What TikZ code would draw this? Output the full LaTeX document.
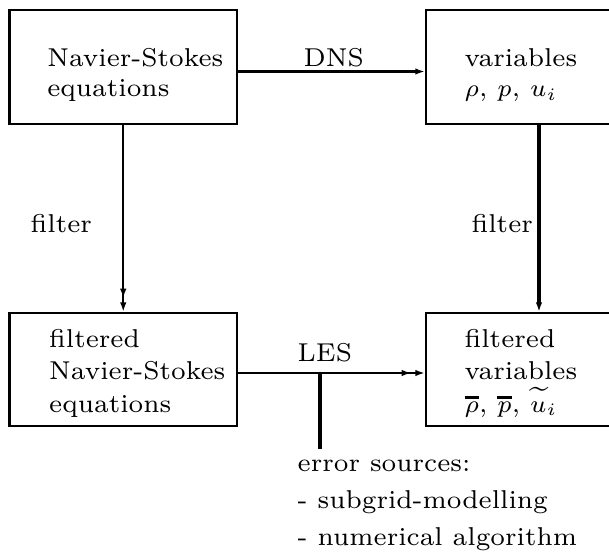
\documentclass[tikz,border=0pt]{standalone}
\usetikzlibrary{arrows.meta}
\newcommand\thickbar[1]{\mathord{\vbox{\hrule height0.75pt\kern0.7pt\hbox{$#1$}}}}
\tikzset{
  box/.style={draw, line width=0.75pt, inner sep=0pt},
  txt/.style={anchor=base west, inner sep=0pt, align=left},
  conn/.style={line width=0.62pt},
  tipone/.style={-{Latex[length=2.7pt,width=1.9pt]}},
  tiptwo/.style={-{Latex[length=2.7pt,width=1.9pt,sep=1.2pt]Latex[length=2.7pt,width=1.9pt]}},
}
\begin{document}
\begin{tikzpicture}[x=0.2865pt,y=-0.2865pt,font=\fontsize{7.4}{8.6}\selectfont]
\useasboundingbox (0,0) rectangle (609,552);
\clip (0,0) rectangle (609,552);
% boxes
\node[box, minimum width=227.5*0.2865pt, minimum height=114*0.2865pt] (A) at (123.25,67) {};
\node[box, minimum width=234*0.2865pt, minimum height=114*0.2865pt] (B) at (543,67) {};
\node[box, minimum width=227.5*0.2865pt, minimum height=113*0.2865pt] (C) at (123.25,369.5) {};
\node[box, minimum width=234*0.2865pt, minimum height=113*0.2865pt] (D) at (543,369.5) {};
% box texts (anchor = baseline of the last line)
\node[txt] (tA) at (46.6,96.7) {Navier-Stokes\\equations};
\node[txt] (tB) at (464,96.7) {variables\\$\rho$, $p$, $u_i$};
\node[txt, font=\fontsize{7.4}{9.3}\selectfont] (tC) at (48.5,412) {filtered\\Navier-Stokes\\equations};
\node[txt, font=\fontsize{7.4}{9.3}\selectfont] (tD) at (464,412) {filtered\\variables\\$\thickbar{\rho}$, $\thickbar{p}$, $\widetilde{u}_i$};
% labels
\node[txt] (dns) at (303,66.7) {DNS};
\node[txt] (les) at (297,361.7) {LES};
\node[txt] (fl) at (30,232) {filter};
\node[txt] (fr) at (471,232) {filter};
\node[txt, font=\fontsize{7.4}{10.6}\selectfont] (err) at (297,545.7) {error sources:\\- subgrid-modelling\\- numerical algorithm};
% helper coordinates
\coordinate (dy) at (0,71.5);
\coordinate (ly) at (0,373);
\coordinate (rx) at (539,0);
\coordinate (e1) at (320,373);
\coordinate (e2) at (320,449);
% connectors
\draw[conn, tipone] (dy -| A.east) -- (dy -| B.west);
\draw[conn, tiptwo] (A.south) -- (C.north);
\draw[line width=1.05pt, tipone] (rx |- B.south) -- (rx |- D.north);
\draw[line width=0.8pt, tiptwo] (ly -| C.east) -- (ly -| D.west);
\draw[line width=1pt] (e1) -- (e2);
\end{tikzpicture}
\end{document}
